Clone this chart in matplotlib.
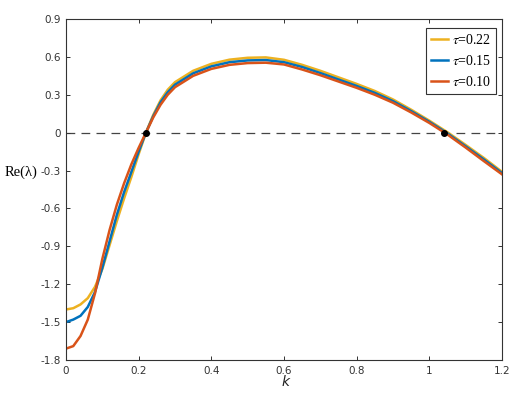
import matplotlib
matplotlib.use("Agg")
import matplotlib.pyplot as plt

k = [0, 0.02, 0.04, 0.06, 0.08, 0.10, 0.12, 0.14, 0.16, 0.18, 0.20, 0.22,
     0.24, 0.26, 0.28, 0.30, 0.35, 0.40, 0.45, 0.50, 0.55, 0.60, 0.65, 0.70,
     0.75, 0.80, 0.85, 0.90, 0.95, 1.00, 1.05, 1.10, 1.15, 1.20]

re_tau022 = [-1.40, -1.39, -1.36, -1.31, -1.22, -1.08, -0.89, -0.70, -0.52, -0.35,
             -0.17, 0.0, 0.14, 0.255, 0.34, 0.40, 0.49, 0.545, 0.578, 0.593, 0.596,
             0.577, 0.537, 0.49, 0.438, 0.386, 0.33, 0.263, 0.182, 0.095, 0.003,
             -0.097, -0.20, -0.31]
re_tau015 = [-1.50, -1.48, -1.45, -1.38, -1.26, -1.07, -0.86, -0.65, -0.47, -0.31,
             -0.15, 0.0, 0.13, 0.24, 0.32, 0.38, 0.47, 0.525, 0.558, 0.572, 0.575,
             0.558, 0.52, 0.472, 0.421, 0.37, 0.315, 0.25, 0.171, 0.086, -0.006,
             -0.108, -0.212, -0.32]
re_tau010 = [-1.71, -1.69, -1.61, -1.48, -1.27, -1.00, -0.77, -0.57, -0.40, -0.25,
             -0.12, 0.0, 0.12, 0.22, 0.30, 0.36, 0.45, 0.505, 0.537, 0.551, 0.554,
             0.54, 0.50, 0.455, 0.405, 0.355, 0.30, 0.237, 0.16, 0.077, -0.015,
             -0.118, -0.225, -0.33]

labels = [r"$\tau$=0.22", r"$\tau$=0.15", r"$\tau$=0.10"]
colors = ["#EDB120", "#0072BD", "#D95319"]
roots_k = [0.22, 1.04]
roots_v = [0.0, 0.0]

xticks = [0, 0.2, 0.4, 0.6, 0.8, 1.0, 1.2]
xticklabels = ["0", "0.2", "0.4", "0.6", "0.8", "1", "1.2"]
yticks = [-1.8, -1.5, -1.2, -0.9, -0.6, -0.3, 0, 0.3, 0.6, 0.9]
yticklabels = ["-1.8", "-1.5", "-1.2", "-0.9", "-0.6", "-0.3", "0", "0.3", "0.6", "0.9"]

plt.rcParams["mathtext.fontset"] = "stix"

fig = plt.figure(figsize=(5.32, 3.95), dpi=100)
ax = fig.add_axes([66/532, 35/395, 436/532, 341/395])

ax.axhline(0, color="#444444", lw=0.9, dashes=(7, 5), zorder=1)
for vals, lab, c in zip([re_tau022, re_tau015, re_tau010], labels, colors):
    ax.plot(k, vals, color=c, lw=1.8, label=lab, zorder=2)
ax.plot(roots_k, roots_v, "o", color="black", ms=4, zorder=5)

ax.set_xlim(0, 1.2)
ax.set_ylim(-1.8, 0.9)
ax.set_xticks(xticks)
ax.set_xticklabels(xticklabels)
ax.set_yticks(yticks)
ax.set_yticklabels(yticklabels)
ax.tick_params(direction="in", top=True, right=True, length=3, width=0.7,
               colors="#333333", labelsize=7.5, labelcolor="#333333", pad=4)
for s in ax.spines.values():
    s.set_color("#333333")
    s.set_linewidth(0.8)

fig.text(5/532, 1 - 172/395, "Re(λ)", family="Liberation Serif",
         fontsize=10.5, ha="left", va="center")
fig.text(286/532, 1 - 382/395, "k", style="italic", fontsize=10,
         ha="center", va="center", color="#222222")

leg = ax.legend(loc="upper right", bbox_to_anchor=(496/532, 1 - 28/395),
                bbox_transform=fig.transFigure, borderaxespad=0,
                prop={"family": "Liberation Serif", "size": 10},
                handlelength=1.2, handletextpad=0.3, labelspacing=0.5,
                borderpad=0.35, fancybox=False, framealpha=1)
leg.get_frame().set_edgecolor("#333333")
leg.get_frame().set_linewidth(0.8)

fig.savefig("out.png", dpi=100)
